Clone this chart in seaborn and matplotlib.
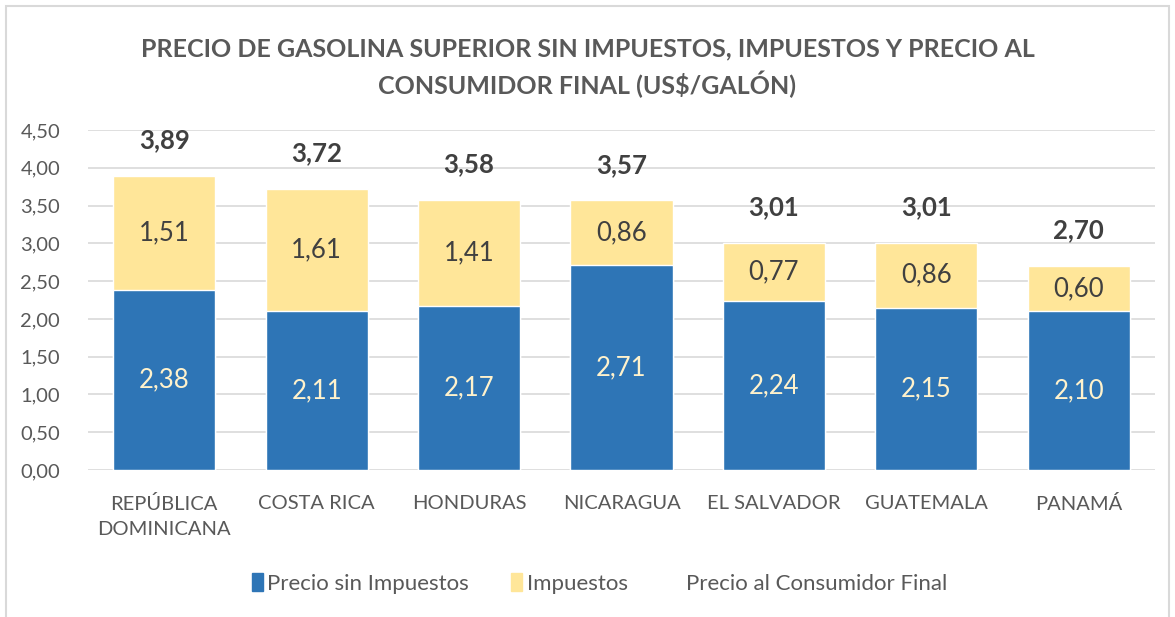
import seaborn as sns
import matplotlib.pyplot as plt
import pandas as pd
from matplotlib.patches import Patch, Rectangle

###

paises = ['REPÚBLICA\nDOMINICANA', 'COSTA RICA', 'HONDURAS', 'NICARAGUA',
          'EL SALVADOR', 'GUATEMALA', 'PANAMÁ']
sin_impuestos = [2.38, 2.11, 2.17, 2.71, 2.24, 2.15, 2.10]
impuestos = [1.51, 1.61, 1.41, 0.86, 0.77, 0.86, 0.60]
precio_final = [3.89, 3.72, 3.58, 3.57, 3.01, 3.01, 2.70]

AZUL = '#2E75B6'
AMARILLO = '#FFE699'
GRIS = '#595959'

def coma(v):
    return f'{v:.2f}'.replace('.', ',')

df = pd.DataFrame({'pais': paises, 'base': sin_impuestos,
                   'imp': impuestos, 'total': precio_final})

sns.set_style('white')
plt.rcParams['font.family'] = ['Lato', 'DejaVu Sans']

fig = plt.figure(figsize=(11.75, 6.17), dpi=100)
ax = fig.add_axes([0.0749, 0.2382, 0.9081, 0.5510])

# yellow = total height, blue drawn on top
sns.barplot(data=df, x='pais', y='total', color=AMARILLO, width=0.67,
            saturation=1, ax=ax, zorder=2)
sns.barplot(data=df, x='pais', y='base', color=AZUL, width=0.67,
            saturation=1, ax=ax, zorder=3)

for i, row in df.iterrows():
    ax.text(i, row['base'] / 2, coma(row['base']), ha='center', va='center',
            color='#FFF2CC', fontsize=18.5, zorder=4)
    ax.text(i, row['base'] + row['imp'] / 2, coma(row['imp']), ha='center',
            va='center', color='#404040', fontsize=18.5, zorder=4)
    ax.text(i, row['total'] + 0.47, coma(row['total']), ha='center',
            va='center', color='#404040', fontsize=18.5, fontweight='bold', zorder=4)

ax.set_ylim(0, 4.5)
ax.set_xlim(-0.5, 6.5)
yt = [0, 0.5, 1, 1.5, 2, 2.5, 3, 3.5, 4, 4.5]
ax.set_yticks(yt)
ax.set_yticklabels([coma(v) for v in yt])
ax.yaxis.grid(True, color='#D9D9D9', linewidth=1.2, zorder=0)
ax.set_axisbelow(True)
for s in ax.spines.values():
    s.set_visible(False)
ax.tick_params(axis='y', length=0, labelsize=14.5, labelcolor=GRIS, pad=20)
ax.tick_params(axis='x', length=0, labelsize=14.5, labelcolor=GRIS, pad=18)
for t in ax.get_xticklabels():
    t.set_linespacing(1.6)
ax.set_xlabel('')
ax.set_ylabel('')

fig.text(0.5, 0.89, 'PRECIO DE GASOLINA SUPERIOR SIN IMPUESTOS, IMPUESTOS Y PRECIO AL\nCONSUMIDOR FINAL (US$/GALÓN)',
         ha='center', va='center', fontsize=18, fontweight='bold', color=GRIS,
         linespacing=1.45)

handles = [Patch(color=AZUL), Patch(color=AMARILLO), Patch(color='none')]
fig.legend(handles, ['Precio sin Impuestos', 'Impuestos', 'Precio al Consumidor Final'],
           loc='center', bbox_to_anchor=(0.51, 0.055), ncol=3, frameon=False,
           fontsize=16, labelcolor=GRIS, handlelength=0.5, handleheight=0.9,
           handletextpad=0.2, columnspacing=1.9)

fig.patches.append(Rectangle((0.005, -0.01), 0.99, 1.0, transform=fig.transFigure,
                             fill=False, edgecolor='#D9D9D9', linewidth=1.5))

fig.savefig('out.png', dpi=100)
